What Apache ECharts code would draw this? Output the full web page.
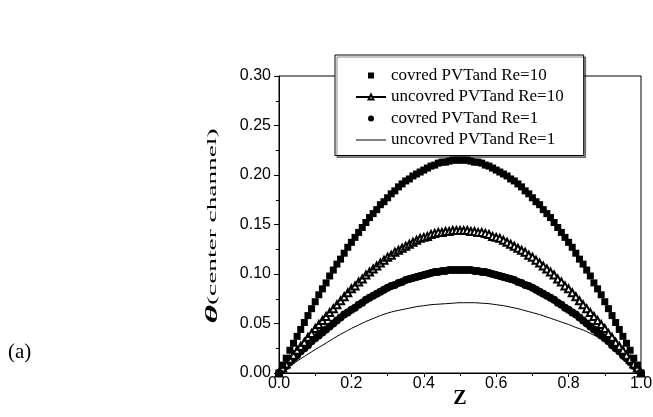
<!DOCTYPE html>
<html><head><meta charset="utf-8">
<script src="https://cdn.jsdelivr.net/npm/echarts@6/dist/echarts.min.js"></script>
<style>html,body{margin:0;padding:0;background:#fff}#c{width:653px;height:417px}</style>
</head><body><div id="c"></div>
<script>
const zFine = [0,0.01,0.02,0.03,0.04,0.05,0.06,0.07,0.08,0.09,0.10,0.11,0.12,0.13,0.14,0.15,0.16,0.17,0.18,0.19,0.20,0.21,0.22,0.23,0.24,0.25,0.26,0.27,0.28,0.29,0.30,0.31,0.32,0.33,0.34,0.35,0.36,0.37,0.38,0.39,0.40,0.41,0.42,0.43,0.44,0.45,0.46,0.47,0.48,0.49,0.50,0.51,0.52,0.53,0.54,0.55,0.56,0.57,0.58,0.59,0.60,0.61,0.62,0.63,0.64,0.65,0.66,0.67,0.68,0.69,0.70,0.71,0.72,0.73,0.74,0.75,0.76,0.77,0.78,0.79,0.80,0.81,0.82,0.83,0.84,0.85,0.86,0.87,0.88,0.89,0.90,0.91,0.92,0.93,0.94,0.95,0.96,0.97,0.98,0.99,1.00];
const coveredRe10 = [0,.008,.015,.023,.030,.037,.044,.051,.058,.065,.072,.079,.085,.091,.098,.104,.110,.115,.121,.127,.132,.137,.142,.147,.152,.157,.161,.165,.170,.173,.177,.181,.184,.188,.191,.194,.196,.199,.201,.203,.205,.207,.209,.210,.212,.213,.213,.214,.215,.215,.215,.215,.215,.214,.213,.213,.212,.210,.209,.207,.205,.203,.201,.199,.196,.194,.191,.188,.184,.181,.177,.173,.170,.165,.161,.157,.152,.147,.142,.137,.132,.127,.121,.115,.110,.104,.098,.091,.085,.079,.072,.065,.058,.051,.044,.037,.030,.023,.015,.008,0];
const uncoveredRe10 = [0,.005,.009,.014,.018,.023,.027,.031,.036,.040,.045,.049,.053,.057,.061,.065,.069,.073,.077,.081,.085,.088,.092,.095,.099,.102,.105,.108,.111,.114,.117,.119,.122,.124,.126,.128,.130,.132,.134,.136,.137,.138,.140,.141,.142,.142,.143,.143,.144,.144,.144,.144,.144,.143,.143,.142,.142,.141,.140,.138,.137,.136,.134,.132,.130,.128,.126,.124,.122,.119,.117,.114,.111,.108,.105,.102,.099,.095,.092,.088,.085,.081,.077,.073,.069,.065,.061,.057,.053,.049,.045,.040,.036,.031,.027,.023,.018,.014,.009,.005,0];
const coveredRe1 = [0,.004,.007,.011,.015,.018,.022,.025,.028,.032,.035,.038,.041,.044,.047,.050,.053,.056,.059,.061,.064,.066,.069,.071,.074,.076,.078,.080,.082,.084,.086,.088,.089,.091,.092,.094,.095,.096,.097,.098,.099,.100,.101,.102,.102,.103,.103,.104,.104,.104,.104,.104,.104,.104,.103,.103,.102,.102,.101,.100,.099,.098,.097,.096,.095,.094,.092,.091,.089,.088,.086,.084,.082,.080,.078,.076,.074,.071,.069,.066,.064,.061,.059,.056,.053,.050,.047,.044,.041,.038,.035,.032,.028,.025,.022,.018,.015,.011,.007,.004,0];
const zCoarse = [0,0.02,0.04,0.06,0.08,0.10,0.12,0.14,0.16,0.18,0.20,0.22,0.24,0.26,0.28,0.30,0.32,0.34,0.36,0.38,0.40,0.42,0.44,0.46,0.48,0.50,0.52,0.54,0.56,0.58,0.60,0.62,0.64,0.66,0.68,0.70,0.72,0.74,0.76,0.78,0.80,0.82,0.84,0.86,0.88,0.90,0.92,0.94,0.96,0.98,1.00];
const uncoveredRe1 = [0,.0048,.0096,.0144,.019,.0237,.028,.0325,.037,.041,.045,.0485,.052,.055,.058,.0605,.0625,.064,.0655,.067,.068,.069,.0695,.070,.0705,.071,.071,.071,.0705,.070,.069,.068,.0665,.065,.063,.061,.059,.0565,.054,.0515,.049,.046,.0435,.040,.0365,.033,.028,.022,.015,.0075,0];
const seriesNames = ['covred PVTand Re=10','uncovred PVTand Re=10','covred PVTand Re=1','uncovred PVTand Re=1'];
const yTitleSymbol = 'θ';
const yTitleText = '(center channel)';
const xTitle = 'Z';
const panelLabel = '(a)';

const pair = (xs, ys) => xs.map((x, i) => [x, ys[i]]);
const chart = echarts.init(document.getElementById('c'), null, {renderer: 'canvas'});
const axisCommon = {
  axisLine: {show: true, onZero: false, lineStyle: {color: '#000', width: 1}},
  axisTick: {show: true, inside: false, length: 5, lineStyle: {color: '#000'}},
  minorTick: {show: true, splitNumber: 2, length: 3, lineStyle: {color: '#000'}},
  splitLine: {show: false},
  minorSplitLine: {show: false},
  axisLabel: {color: '#000', fontFamily: 'Liberation Sans', fontSize: 16}
};
chart.setOption({
  animation: false,
  backgroundColor: '#fff',
  grid: {left: 279, right: 12, top: 76, bottom: 44, show: true, borderColor: '#000', borderWidth: 1, backgroundColor: 'transparent', containLabel: false, outerBoundsMode: 'none'},
  xAxis: Object.assign({}, axisCommon, {
    type: 'value', min: 0, max: 1, interval: 0.2,
    name: xTitle, nameLocation: 'middle', nameGap: 16, nameMoveOverlap: false,
    nameTextStyle: {fontFamily: 'Liberation Serif', fontWeight: 'bold', fontSize: 20, color: '#000'},
    axisTick: {show: true, inside: false, length: 4, lineStyle: {color: '#000'}},
    minorTick: {show: true, splitNumber: 2, length: 3, lineStyle: {color: '#000'}},
    axisLabel: Object.assign({}, axisCommon.axisLabel, {margin: 3, formatter: v => v.toFixed(1)})
  }),
  yAxis: Object.assign({}, axisCommon, {
    type: 'value', min: 0, max: 0.3, interval: 0.05,
    axisLabel: Object.assign({}, axisCommon.axisLabel, {margin: 8, formatter: v => v.toFixed(2)})
  }),
  legend: {
    orient: 'vertical', left: 335, top: 55,
    data: [
      {name: seriesNames[0], icon: 'path://M0,0h1v1h-1z'},
      {name: seriesNames[1]},
      {name: seriesNames[2]},
      {name: seriesNames[3], icon: 'path://M0,0h30v1h-30z'}
    ],
    itemWidth: 30, itemHeight: 6, itemGap: 4.5,
    padding: [12, 20, 7, 20],
    backgroundColor: '#fff', borderColor: '#000', borderWidth: 1,
    shadowColor: 'rgba(0,0,0,0.45)', shadowOffsetX: 2, shadowOffsetY: 2, shadowBlur: 0,
    textStyle: {fontFamily: 'Liberation Serif', fontSize: 17, color: '#000'}
  },
  graphic: [
    {type: 'text', left: 8, top: 342, style: {text: panelLabel, fontFamily: 'Liberation Serif', fontSize: 21, fill: '#000'}},
    {type: 'text', x: 213, y: 226, rotation: Math.PI / 2, scaleX: 2.1, scaleY: 1,
     style: {text: '{a|' + yTitleSymbol + '}{b|' + yTitleText + '}', align: 'center', verticalAlign: 'middle',
       rich: {
         a: {fontFamily: 'Liberation Serif', fontWeight: 'bold', fontStyle: 'italic', fontSize: 17, fill: '#000'},
         b: {fontFamily: 'Liberation Serif', fontSize: 13, fill: '#000'}
       }}}
  ],
  series: [
    {name: seriesNames[3], type: 'line', data: pair(zCoarse, uncoveredRe1), smooth: 0.3, showSymbol: false, symbol: 'none',
     lineStyle: {color: '#000', width: 1}, itemStyle: {color: '#000'}, z: 2},
    {name: seriesNames[2], type: 'scatter', data: pair(zFine, coveredRe1), symbol: 'circle', symbolSize: 8,
     itemStyle: {color: '#000', opacity: 1}, z: 3},
    {name: seriesNames[1], type: 'line', data: pair(zFine, uncoveredRe10), symbol: 'emptyTriangle', symbolSize: 7, showSymbol: true, showAllSymbol: true,
     lineStyle: {width: 1, color: '#000'}, itemStyle: {color: '#000', borderColor: '#000', borderWidth: 1}, z: 4},
    {name: seriesNames[0], type: 'scatter', data: pair(zFine, coveredRe10), symbol: 'rect', symbolSize: 7,
     itemStyle: {color: '#000', opacity: 1}, z: 5}
  ]
});
</script></body></html>
